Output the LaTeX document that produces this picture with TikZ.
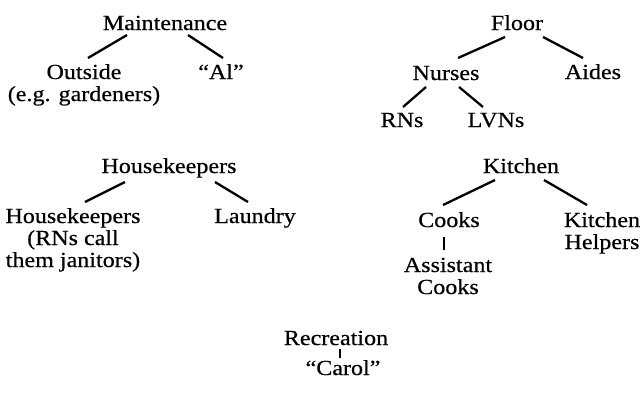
\documentclass[tikz,border=0pt]{standalone}
\usepackage{fontspec}
\setmainfont{Liberation Serif}[FakeStretch=1.12,FakeBold=0.5]
\usetikzlibrary{calc}
\tikzset{
  lbl/.style={inner sep=0pt, anchor=base, font=\fontsize{21.5}{22}\selectfont},
  edge/.style={line width=2.3pt, line cap=butt}
}
\newcommand{\stk}[2]{\begin{tabular}[t]{@{}c@{}}#1\\#2\end{tabular}}
\newcommand{\stkk}[3]{\begin{tabular}[t]{@{}c@{}}#1\\#2\\#3\end{tabular}}
\renewcommand{\arraystretch}{1}
\begin{document}
\begin{tikzpicture}[x=1pt,y=-1pt]
\useasboundingbox (0,0) rectangle (644,392);
% Maintenance
\node[lbl] (maint) at (165,30) {Maintenance};
\node[lbl] (outside) at (84,79) {\stk{Outside}{(e.g. gardeners)}};
\node[lbl] (al) at (221,79) {“Al”};
\draw[edge] ($(maint.base)+(-38,5)$) -- ($(outside.base)+(4,-21)$);
\draw[edge] ($(maint.base)+(23,5)$) -- ($(al.base)+(2,-21)$);
% Floor
\node[lbl] (floor) at (517,30) {Floor};
\node[lbl] (nurses) at (446,80) {Nurses};
\node[lbl] (aides) at (593,79) {Aides};
\node[lbl] (rns) at (402,127) {RNs};
\node[lbl] (lvns) at (496,127) {LVNs};
\draw[edge] ($(floor.base)+(-12,7)$) -- ($(nurses.base)+(12,-22)$);
\draw[edge] ($(floor.base)+(26,7)$) -- ($(aides.base)+(-10,-21)$);
\draw[edge] ($(nurses.base)+(-20,7)$) -- ($(rns.base)+(1,-20)$);
\draw[edge] ($(nurses.base)+(13,7)$) -- ($(lvns.base)+(-13,-20)$);
% Housekeepers
\node[lbl] (hk) at (169,173) {Housekeepers};
\node[lbl] (hkc) at (73,223) {\stkk{Housekeepers}{(RNs call}{them janitors)}};
\node[lbl] (laundry) at (255,223) {Laundry};
\draw[edge] ($(hk.base)+(-44,9)$) -- ($(hkc.base)+(12,-21)$);
\draw[edge] ($(hk.base)+(46,9)$) -- ($(laundry.base)+(-7,-21)$);
% Kitchen
\node[lbl] (kitchen) at (521,173) {Kitchen};
\node[lbl] (cooks) at (449,227) {Cooks};
\node[lbl] (helpers) at (602,227) {\stk{Kitchen}{Helpers}};
\node[lbl] (asst) at (448,272) {\stk{Assistant}{Cooks}};
\draw[edge] ($(kitchen.base)+(-26,7)$) -- ($(cooks.base)+(-6,-22)$);
\draw[edge] ($(kitchen.base)+(23,7)$) -- ($(helpers.base)+(-15,-22)$);
\draw[edge] ($(cooks.base)+(-5,10)$) -- ($(asst.base)+(-4,-22)$);
% Recreation
\node[lbl] (rec) at (336,345) {Recreation};
\node[lbl] (carol) at (343,375) {“Carol”};
\draw[edge] ($(rec.base)+(4,3.5)$) -- ($(carol.base)+(-3,-17)$);
\end{tikzpicture}
\end{document}
